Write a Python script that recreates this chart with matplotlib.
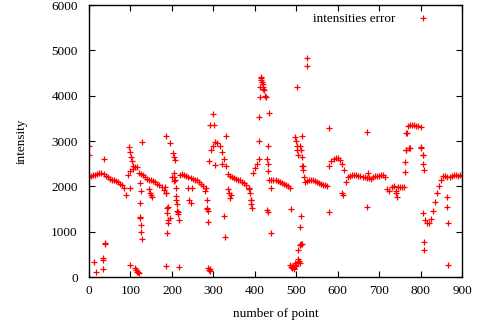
import matplotlib
matplotlib.use("Agg")
import matplotlib.pyplot as plt

# main trend of the error curve (every 5th point)
x_main = list(range(0, 901, 5))
y_main = [
    2210, 2230, 2240, 2260, 2280, 2300, 2300, 2270, 2230, 2200,   # 0-45
    2170, 2150, 2140, 2120, 2100, 2060, 2020, 1960, 1800, 2250,   # 50-95
    2330, 2380, 2420, 2430, 2300, 2280, 2240, 2200, 2170, 2150,   # 100-145
    2130, 2110, 2090, 2060, 2030, 1990, 1930, 1850, 1550, 1300,   # 150-195
    2200, 2120, 1700, 1400, 2250, 2270, 2260, 2230, 2210, 2190,   # 200-245
    2170, 2150, 2130, 2100, 2060, 2000, 1900, 1500, 2550, 2800,   # 250-295
    2900, 2980, 2950, 2880, 2750, 2600, 2450, 2280, 2230, 2200,   # 300-345
    2180, 2170, 2150, 2130, 2100, 2080, 2040, 1950, 1700, 2300,   # 350-395
    2400, 2500, 2600, 4350, 4200, 4000, 2600, 2150, 2150, 2140,   # 400-445
    2130, 2120, 2100, 2080, 2050, 2020, 2000, 1960, 220, 180,     # 450-495
    250, 400, 700, 2450, 2100, 2120, 2130, 2140, 2130, 2120,      # 500-545
    2100, 2080, 2060, 2040, 2020, 2000, 2450, 2550, 2600, 2630,   # 550-595
    2620, 2580, 2500, 2350, 2100, 2200, 2230, 2240, 2250, 2240,   # 600-645
    2230, 2220, 2200, 2200, 2190, 2180, 2170, 2200, 2220, 2220,   # 650-695
    2230, 2250, 2240, 2200, 1950, 1900, 1980, 2000, 1900, 1980,   # 700-745
    1990, 1980, 1990, 2800, 3330, 3350, 3350, 3360, 3340, 3330,   # 750-795
    3300, 2700, 1250, 1200, 1200, 1280, 1450, 1650, 1850, 2000,   # 800-845
    2150, 2220, 2230, 2200, 2210, 2230, 2250, 2240, 2230, 2250,   # 850-895
    2230,                                                         # 900
]

# scattered points away from the trend
x_out = [0, 0, 13, 17, 35, 33, 34, 33, 38, 39,
         100, 112, 114, 116, 118, 120,
         97, 99, 101, 103, 106, 100,
         125, 124, 123, 122, 124, 126, 125, 127, 129,
         145, 148, 150, 152,
         186, 196, 186, 218,
         183, 185, 187, 189, 190, 191, 188,
         203, 205, 207, 204, 206, 208, 210, 211, 212, 213, 214, 216,
         239, 242, 245, 248,
         282, 284, 286, 288, 285,
         288, 290, 291, 293,
         293, 300, 302, 303,
         330, 325, 327, 322,
         335, 338, 340, 342,
         386, 388, 390, 392, 394,
         410, 411, 413, 414, 416, 418, 419, 421, 423, 427, 412,
         435, 433, 433, 432, 430, 431, 438, 438,
         487,
         485, 488, 490, 492, 494, 496, 498, 504, 507, 510, 508, 511, 513, 505, 509, 511,
         501, 497, 499, 501, 503, 505, 513, 510, 512, 514, 516, 517, 518, 527, 527,
         578, 578, 610, 613,
         670, 670, 672,
         742, 740,
         762, 763, 764, 765, 772, 768, 775,
         800, 802, 805, 806, 808, 806, 808, 809,
         863, 864, 866, 867]
y_out = [2880, 2700, 340, 100, 2600, 420, 370, 180, 750, 720,
         265, 200, 150, 120, 100, 90,
         2870, 2760, 2640, 2550, 2450, 1960,
         1900, 2070, 1630, 1330, 1310, 1150, 990, 840, 2980,
         1950, 1850, 1800, 1770,
         3100, 2960, 250, 230,
         1990, 1850, 1520, 1410, 1260, 1190, 970,
         2730, 2650, 2580, 2300, 2200, 2150, 1970, 1780, 1600, 1450, 1430, 1250,
         1970, 1700, 1630, 1970,
         1970, 1520, 1450, 1220, 1700,
         200, 160, 130, 180,
         3360, 3590, 3350, 2470,
         3110, 1350, 890, 2500,
         1950, 1850, 1750, 1800,
         1960, 1850, 1700, 1600, 1530,
         3000, 3530, 3980, 4410, 4380, 4300, 4150, 4250, 4130, 3970, 4200,
         3620, 2880, 2500, 2330, 1470, 1430, 1970, 970,
         1500,
         260, 230, 200, 240, 190, 260, 300, 330, 350, 300, 700, 720, 730, 600, 1100, 1350,
         4200, 3090, 3000, 2900, 2800, 2700, 3100, 2900, 2800, 2650, 2450, 2360, 2200, 4830, 4660,
         3290, 1430, 1850, 1800,
         3200, 1540, 2300,
         1770, 1850,
         2320, 2540, 2800, 3170, 2840, 3170, 2840,
         2870, 2850, 2700, 2500, 2350, 1410, 775, 600,
         1770, 1550, 1200, 265]

plt.rcParams['font.family'] = ['Liberation Serif', 'DejaVu Serif']
plt.rcParams['font.size'] = 9.5

fig = plt.figure(figsize=(4.79, 3.27), dpi=100)
ax = fig.add_axes([89 / 479, 1 - 277 / 327, 373 / 479, 272 / 327])

ax.plot(x_main + x_out, y_main + y_out, linestyle='none', marker='+',
        color='red', markersize=4, markeredgewidth=0.9, label='intensities error')

ax.set_xlim(0, 900)
ax.set_ylim(0, 6000)
ax.set_xticks(range(0, 901, 100))
ax.set_yticks(range(0, 6001, 1000))
ax.tick_params(direction='in', length=4, width=0.8, top=True, right=True)
ax.tick_params(axis='y', pad=8)
ax.tick_params(axis='x', pad=6)
for s in ax.spines.values():
    s.set_linewidth(1.0)

ax.set_xlabel('number of point', labelpad=8)
ax.set_ylabel('intensity', labelpad=17)

ax.legend(loc='upper right', bbox_to_anchor=(0.935, 1.0), frameon=False,
          markerfirst=False, handlelength=1.0, borderaxespad=0.2,
          handletextpad=1.6)

fig.savefig('out.png', dpi=100)
